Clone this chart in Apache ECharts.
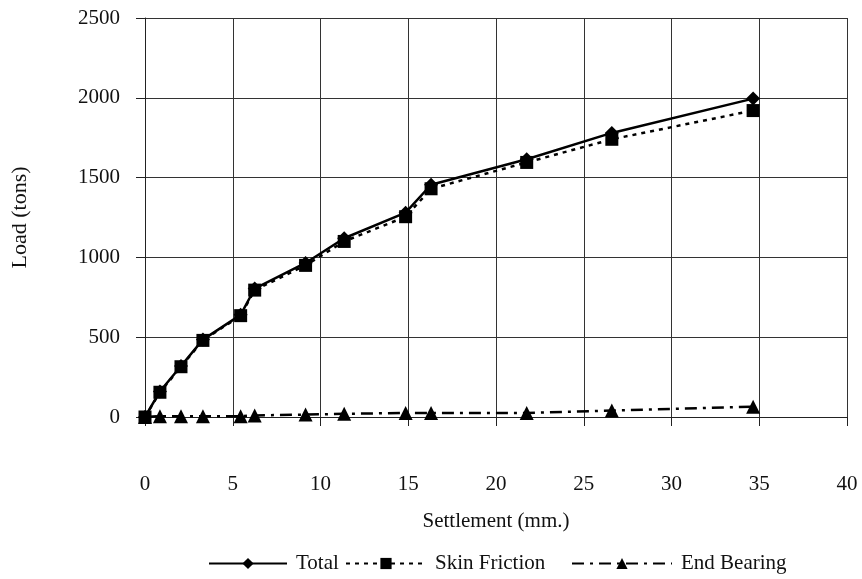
<!DOCTYPE html>
<html>
<head>
<meta charset="utf-8">
<script src="https://cdn.jsdelivr.net/npm/echarts@6/dist/echarts.min.js"></script>
<style>html,body{margin:0;padding:0;background:#fff}#c{width:862px;height:579px}</style>
</head>
<body>
<div id="c"></div>
<script>
var settlement = [0, 0.85, 2.05, 3.3, 5.45, 6.25, 9.15, 11.35, 14.85, 16.3, 21.75, 26.6, 34.65];
var total      = [0, 160, 320, 485, 640, 805, 965, 1120, 1280, 1455, 1615, 1780, 1995];
var skin       = [0, 155, 315, 480, 635, 795, 950, 1100, 1255, 1430, 1595, 1740, 1920];
var endBearing = [0, 5, 5, 5, 5, 10, 15, 20, 25, 25, 25, 40, 65];
var seriesNames = ['Total', 'Skin Friction', 'End Bearing'];

function pairs(xs, ys){ return xs.map(function(x,i){ return [x, ys[i]]; }); }

var font = 'Liberation Serif';
function leg(name, left, w){
  return {top: 548, left: left, itemWidth: w, itemHeight: 14, itemGap: 0,
          textStyle: {fontFamily: font, fontSize: 21, color: '#111', padding: [0, 0, 0, 4]},
          data: [name]};
}
var chart = echarts.init(document.getElementById('c'), null, {renderer:'canvas'});
chart.setOption({
  animation: false,
  backgroundColor: '#fff',
  grid: {left: 145, right: 15, top: 18, bottom: 162, show: false, containLabel: false, outerBoundsMode: 'none'},
  xAxis: {
    type: 'value', min: 0, max: 40, interval: 5,
    name: 'Settlement (mm.)', nameLocation: 'middle', nameGap: 94,
    nameTextStyle: {fontFamily: font, fontSize: 21, color: '#111'},
    axisLine: {show: true, lineStyle: {color: '#222', width: 1}},
    axisTick: {show: true, length: 9, inside: false, lineStyle: {color: '#222'}},
    axisLabel: {margin: 57, fontFamily: font, fontSize: 21, color: '#111'},
    splitLine: {show: true, lineStyle: {color: '#333', width: 1}}
  },
  yAxis: {
    type: 'value', min: 0, max: 2500, interval: 500,
    name: 'Load (tons)', nameLocation: 'middle', nameGap: 114, nameRotate: 90,
    nameTextStyle: {fontFamily: font, fontSize: 22, color: '#111'},
    axisLine: {show: true, lineStyle: {color: '#222', width: 1}},
    axisTick: {show: true, length: 9, lineStyle: {color: '#222'}},
    axisLabel: {margin: 25, fontFamily: font, fontSize: 21, color: '#111',
      formatter: function(v){ return String(v); }},
    splitLine: {show: true, lineStyle: {color: '#333', width: 1}}
  },
  legend: [leg(seriesNames[0], 203, 78), leg(seriesNames[1], 340, 80), leg(seriesNames[2], 566, 100)],
  series: [
    {
      name: seriesNames[0], type: 'line', data: pairs(settlement, total),
      symbol: 'diamond', symbolSize: 14, z: 3,
      lineStyle: {color: '#000', width: 2.5, type: 'solid'},
      itemStyle: {color: '#000'}
    },
    {
      name: seriesNames[1], type: 'line', data: pairs(settlement, skin),
      symbol: 'rect', symbolSize: 13, z: 2,
      lineStyle: {color: '#000', width: 2.5, type: [4, 5]},
      itemStyle: {color: '#000'}
    },
    {
      name: seriesNames[2], type: 'line', data: pairs(settlement, endBearing),
      symbol: 'triangle', symbolSize: 14, z: 2,
      lineStyle: {color: '#000', width: 2.5, type: [12, 6, 3, 6]},
      itemStyle: {color: '#000'}
    }
  ]
});
</script>
</body>
</html>
